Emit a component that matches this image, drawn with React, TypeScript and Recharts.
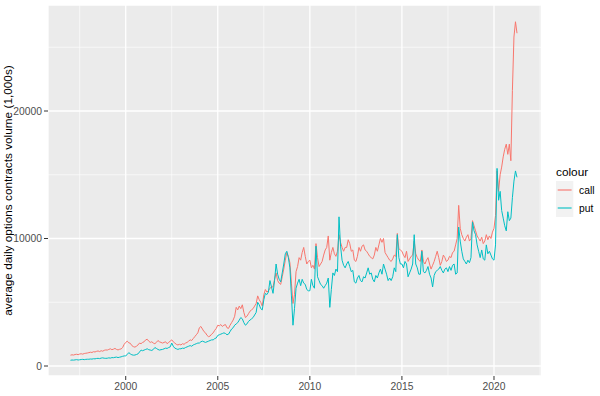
import React from "react";
import {
  LineChart,
  Line,
  XAxis,
  YAxis,
  CartesianGrid,
  ReferenceLine,
  Legend,
} from "recharts";

const FONT = "'Liberation Sans', Arial, sans-serif";
const CALL_COLOR = "#F8766D";
const PUT_COLOR = "#00BFC4";

// monthly averages, Jan 1997 .. Apr 2021
const startYear = 1997;

const call = [
  // 1997
  850, 880, 860, 900, 920, 890, 940, 960, 930, 980, 1000, 1020,
  // 1998
  1050, 1080, 1060, 1120, 1100, 1150, 1180, 1130, 1200, 1160, 1230, 1260,
  // 1999
  1250, 1300, 1350, 1280, 1320, 1380, 1300, 1260, 1310, 1340, 1450, 1700,
  // 2000
  1850, 1950, 1820, 1780, 1600, 1520, 1480, 1550, 1650, 1800, 1750, 1850,
  // 2001
  1900, 2050, 2100, 1950, 1850, 1900, 1800, 1750, 1850, 2000, 1900, 1850,
  // 2002
  1800, 1850, 1900, 1750, 1850, 1950, 2050, 1900, 1800, 1700, 1650, 1700,
  // 2003
  1650, 1750, 1700, 1800, 1850, 1950, 2050, 2000, 2150, 2300, 2450, 2600,
  // 2004
  3000, 3100, 2900, 2700, 2600, 2400, 2300, 2350, 2500, 2600, 2800, 2950,
  // 2005
  3200, 3150, 3250, 3100, 3200, 3250, 3000, 2950, 3200, 3400, 3600, 3900,
  // 2006
  4600, 4400, 4700, 4500, 4800, 4200, 3800, 3900, 4100, 4300, 4400, 4500,
  // 2007
  4700, 4900, 5500, 5200, 5000, 4700, 5600, 6000, 5800, 5900, 6100, 6200,
  // 2008
  6200, 6800, 7300, 6700, 6500, 6400, 7000, 7600, 8300, 8900, 8600, 8100,
  // 2009
  6500, 4900, 5600, 7400, 7800, 8500, 8300, 8900, 9300, 8600, 8000, 8200,
  // 2010
  8300, 7700, 7900, 7600, 9600, 8500, 7800, 8000, 8200, 8700, 9100, 9300,
  // 2011
  10200, 8300, 8900, 9300, 8800, 8600, 9000, 10300, 9700, 9300, 9000, 9300,
  // 2012
  9300, 9900, 9600, 9000, 9100, 8300, 8200, 8600, 9300, 9000, 9400, 9500,
  // 2013
  9100, 9000, 8800, 8600, 8500, 8400, 8700, 9300, 9000, 9500, 10000, 9700,
  // 2014
  10000, 8900, 8700, 8500, 8300, 8200, 8400, 8700, 8600, 10400, 9200, 9100,
  // 2015
  9000, 8700, 8500, 9000, 8200, 8400, 8600, 8700, 9800, 8800, 8500, 8300,
  // 2016
  8200, 9100, 8200, 8000, 8300, 8500, 8000, 7600, 7900, 8200, 8600, 9000,
  // 2017
  8500, 7900, 8200, 8700, 8500, 8200, 8300, 8600, 8500, 8900, 9000, 9500,
  // 2018
  10000, 12600, 10800, 10300, 10000, 9800, 10100, 10300, 9800, 10000, 11400, 11000,
  // 2019
  10600, 10200, 10000, 9800, 10100, 9600, 9800, 10300, 9900, 10200, 10000, 10500,
  // 2020
  10800, 11800, 15300, 13700, 15000, 15600, 16400, 17000, 17400, 16600, 17400, 16100,
  // 2021
  21600, 25800, 27000, 26100,
];

const put = [
  // 1997
  450, 470, 460, 480, 500, 470, 490, 510, 520, 500, 520, 530,
  // 1998
  530, 550, 540, 570, 560, 590, 600, 580, 620, 640, 610, 600,
  // 1999
  610, 640, 620, 660, 650, 680, 700, 660, 690, 720, 760, 790,
  // 2000
  800, 900, 1050, 950, 880, 850, 860, 900, 950, 1100, 1250, 1200,
  // 2001
  1250, 1300, 1350, 1280, 1250, 1220, 1300, 1450, 1380, 1300, 1250, 1280,
  // 2002
  1300, 1350, 1400, 1380, 1450, 1500, 1800, 1550, 1400, 1350, 1300, 1350,
  // 2003
  1350, 1400, 1380, 1450, 1500, 1550, 1600, 1550, 1650, 1700, 1750, 1800,
  // 2004
  1800, 1900, 1950, 1900, 1850, 1900, 1950, 2000, 2050, 2050, 2150, 2200,
  // 2005
  2400, 2450, 2500, 2550, 2600, 2550, 2450, 2500, 2700, 2900, 3000, 3200,
  // 2006
  3300, 3400, 3600, 3800, 3700, 3400, 3200, 3300, 3500, 3600, 3700, 3800,
  // 2007
  4000, 4200, 5000, 4800, 4500, 4400, 5200, 5700, 5600, 5800, 6700, 6200,
  // 2008
  5700, 6700, 8000, 7200, 6800, 6600, 7300, 8000, 8800, 9000, 8500, 7700,
  // 2009
  5500, 3200, 4500, 6100, 6500, 6800, 6300, 6800, 6500, 6400, 6000, 5900,
  // 2010
  5900, 6800, 6300, 6100, 9400, 7000, 6700, 6400, 6300, 6100, 6300, 6500,
  // 2011
  6900, 4600, 6000, 7300, 7100, 7600, 7400, 11700, 9400, 8300, 7900, 7700,
  // 2012
  8000, 8200, 7800, 7400, 7500, 6600, 6500, 6900, 7100, 6700, 6600, 7000,
  // 2013
  6900, 7300, 7700, 7200, 7300, 6800, 6600, 7100, 6900, 7300, 7600, 7200,
  // 2014
  8000, 7600, 7200, 6700, 6900, 6700, 7000, 7700, 7400, 10300, 8500, 8000,
  // 2015
  8000, 7700, 8200, 8000, 7000, 7300, 7600, 8000, 10300, 8000, 7700, 7200,
  // 2016
  7200, 9000, 7400, 7300, 7500, 7800, 7200, 6900, 6200, 7100, 7400, 7500,
  // 2017
  7600, 7800, 7500, 7300, 7600, 7700, 7400, 7800, 7500, 7900, 8000, 7200,
  // 2018
  7300, 10900, 9800, 9000, 8400, 8200, 8000, 8300, 8100, 8500, 11300, 10600,
  // 2019
  10300, 9500, 9000, 8500, 9100, 8400, 8300, 9500, 8800, 9000, 8700, 8400,
  // 2020
  8300, 9500, 15500, 13000, 13700, 12200, 11600, 11000, 10600, 12100, 11400, 11600,
  // 2021
  13200, 14500, 15300, 14800,
];

const xTicks = [2000, 2005, 2010, 2015, 2020];
const xMinor = [1997.5, 2002.5, 2007.5, 2012.5, 2017.5, 2022.5];
const yTicks = [0, 10000, 20000];
const yMinor = [5000, 15000, 25000];

const rows = call.map((c, i) => ({
  year: startYear + i / 12,
  call: c,
  put: put[i],
}));

const legendItems = [
  { label: "call", color: CALL_COLOR },
  { label: "put", color: PUT_COLOR },
];

function LegendBox() {
  return (
    <svg width={52} height={60} style={{ display: "block" }}>
      <text x={8} y={16} fontSize={11.8} fontFamily={FONT} fill="#000">
        colour
      </text>
      {legendItems.map((it, i) => (
        <g key={it.label}>
          <rect x={8} y={21 + i * 18} width={17.3} height={18} fill="#F2F2F2" />
          <line
            x1={9.7}
            x2={23.6}
            y1={30 + i * 18}
            y2={30 + i * 18}
            stroke={it.color}
            strokeWidth={1.1}
          />
          <text
            x={31}
            y={30 + i * 18}
            dy="0.35em"
            fontSize={10.3}
            fontFamily={FONT}
            fill="#000"
          >
            {it.label}
          </text>
        </g>
      ))}
    </svg>
  );
}

function YTitle() {
  return (
    <text
      x={12}
      y={190.5}
      transform="rotate(-90 12 190.5)"
      textAnchor="middle"
      fontSize={11.8}
      fontFamily={FONT}
      fill="#000"
    >
      average daily options contracts volume (1,000s)
    </text>
  );
}

export default function App() {
  const tickStyle = { fill: "#4D4D4D", fontSize: 10.3, fontFamily: FONT };
  return (
    <div style={{ position: "absolute", left: 0, top: 0, background: "#fff" }}>
      <LineChart
        width={600}
        height={396}
        data={rows}
        margin={{ top: 5, right: 58.5, bottom: 0, left: 0 }}
      >
        <CartesianGrid
          fill="#EBEBEB"
          fillOpacity={1}
          stroke="#FFFFFF"
          strokeWidth={1.3}
        />
        {yMinor.map((v) => (
          <ReferenceLine key={"y" + v} y={v} stroke="#FFFFFF" strokeWidth={0.6} />
        ))}
        {xMinor.map((v) => (
          <ReferenceLine key={"x" + v} x={v} stroke="#FFFFFF" strokeWidth={0.6} />
        ))}
        <XAxis
          type="number"
          dataKey="year"
          domain={[1995.78, 2022.58]}
          allowDataOverflow
          ticks={xTicks}
          axisLine={false}
          tickLine={{ stroke: "#333333" }}
          tickSize={4}
          tickMargin={3}
          height={20}
          tick={tickStyle}
        />
        <YAxis
          type="number"
          domain={[-784, 28314]}
          allowDataOverflow
          ticks={yTicks}
          axisLine={false}
          tickLine={{ stroke: "#333333" }}
          tickSize={4}
          tickMargin={2}
          width={48}
          tick={tickStyle}
          label={{ content: () => <YTitle /> }}
        />
        <Line
          type="linear"
          dataKey="call"
          stroke={CALL_COLOR}
          strokeWidth={1}
          dot={false}
          activeDot={false}
          isAnimationActive={false}
        />
        <Line
          type="linear"
          dataKey="put"
          stroke={PUT_COLOR}
          strokeWidth={1}
          dot={false}
          activeDot={false}
          isAnimationActive={false}
        />
        <Legend
          layout="horizontal"
          align="center"
          verticalAlign="middle"
          content={() => <LegendBox />}
          wrapperStyle={{ left: 548, top: 160, width: 52, height: 60 }}
        />
      </LineChart>
    </div>
  );
}
